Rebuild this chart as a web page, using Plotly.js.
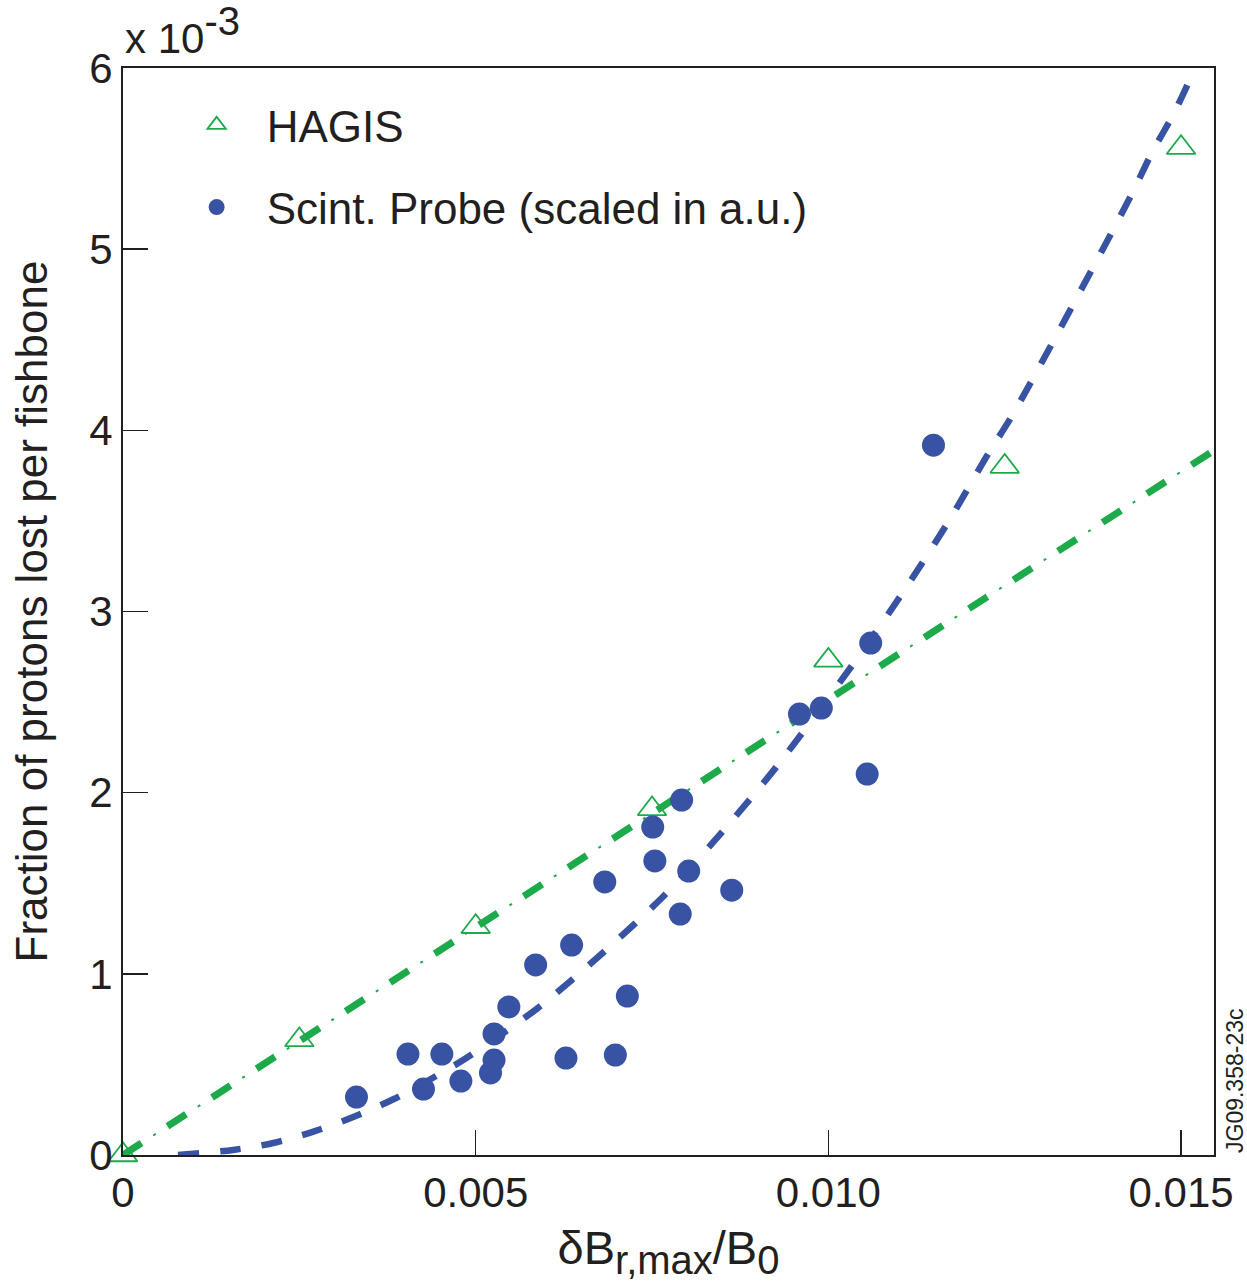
<!DOCTYPE html>
<html>
<head>
<meta charset="utf-8">
<script src="https://cdn.plot.ly/plotly-3.0.1.min.js"></script>
<style>html,body{margin:0;padding:0;background:#fff;}</style>
</head>
<body>
<div id="chart" style="width:1247px;height:1285px;"></div>
<script>
// HAGIS simulation points (y in units of 1e-3)
const hagisX = [0, 0.0025, 0.005, 0.0075, 0.010, 0.0125, 0.015];
const hagisY = [0.0, 0.635, 1.26, 1.91, 2.73, 3.80, 5.56];

// Scintillator probe measurements (scaled, a.u., units of 1e-3)
const probeX = [0.00331, 0.00404, 0.00426, 0.00452, 0.00479, 0.00521, 0.00526, 0.00526, 0.00547,
                0.00585, 0.00628, 0.00636, 0.00683, 0.00698, 0.00715, 0.00751, 0.00754, 0.00792,
                0.00790, 0.00802, 0.00863, 0.00959, 0.00990, 0.01055, 0.01060, 0.01149];
const probeY = [0.32, 0.557, 0.364, 0.557, 0.408, 0.453, 0.524, 0.668, 0.817,
                1.049, 0.535, 1.159, 1.507, 0.552, 0.877, 1.810, 1.623, 1.959,
                1.330, 1.567, 1.462, 2.434, 2.467, 2.103, 2.826, 3.918];

// Dashed blue curve
const curveX = [0.00078, 0.00156, 0.00213, 0.00272, 0.00330, 0.00384, 0.00439, 0.00489, 0.00588,
                0.00680, 0.00768, 0.00848, 0.00926, 0.01034, 0.01103, 0.01169, 0.01228, 0.01261,
                0.01405, 0.01433, 0.01459, 0.01490, 0.01520];
const curveY = [0.0, 0.028, 0.066, 0.132, 0.215, 0.309, 0.425, 0.541, 0.811,
                1.115, 1.435, 1.777, 2.141, 2.704, 3.090, 3.488, 3.880, 4.084,
                5.116, 5.326, 5.535, 5.751, 6.0];

// Green dash-dot linear line
const lineX = [0, 0.01551];
const lineY = [0, 3.90];

// Axis ticks
const xTickVals = [0, 0.005, 0.010, 0.015];
const xTickText = ['0', '0.005', '0.010', '0.015'];
const yTickVals = [0, 1, 2, 3, 4, 5, 6];
const yTickText = ['0', '1', '2', '3', '4', '5', '6'];

const BLUE = '#3853a4';
const GREEN = '#1daa4a';
const INK = '#231f20';
const FONT = 'Liberation Sans, Arial, Helvetica, sans-serif';

const traces = [
  {x: lineX, y: lineY, mode: 'lines', showlegend: false, hoverinfo: 'skip',
   line: {color: GREEN, width: 7, dash: '22px,31px'}},
  {x: lineX, y: lineY, mode: 'lines', showlegend: false, hoverinfo: 'skip',
   line: {color: GREEN, width: 2, dash: '0px,36px,3px,14px'}},
  {x: curveX, y: curveY, mode: 'lines', showlegend: false, hoverinfo: 'skip',
   line: {color: BLUE, width: 6.5, dash: '21px,21px', shape: 'spline', smoothing: 0.8}},
  {x: hagisX, y: hagisY, mode: 'markers', name: 'HAGIS', legendgroup: 'a', cliponaxis: false,
   marker: {symbol: 'triangle-up-open', size: 25, color: GREEN, line: {color: GREEN, width: 1.8}}},
  {x: probeX, y: probeY, mode: 'markers', name: 'Scint. Probe (scaled in a.u.)', legendgroup: 'b', cliponaxis: false,
   marker: {symbol: 'circle', size: 23, color: BLUE}}
];

const axisCommon = {
  showgrid: false, zeroline: false, showline: true, linecolor: INK, linewidth: 2,
  mirror: true, ticks: 'inside', ticklen: 25, tickwidth: 1.5, tickcolor: INK,
  tickfont: {family: FONT, size: 42, color: INK}
};

const layout = {
  width: 1247, height: 1285,
  margin: {l: 123, r: 33, t: 68, b: 130},
  paper_bgcolor: '#ffffff', plot_bgcolor: '#ffffff',
  font: {family: FONT, color: INK},
  xaxis: Object.assign({}, axisCommon, {
    range: [0, 0.015467], tickmode: 'array', tickvals: xTickVals, ticktext: xTickText,
    title: {text: 'δB<sub><span style="font-size:40px">r,max</span></sub>/B<sub><span style="font-size:40px">0</span></sub>',
            font: {family: FONT, size: 47, color: INK}, standoff: 16}
  }),
  yaxis: Object.assign({}, axisCommon, {
    range: [0, 6], tickmode: 'array', tickvals: yTickVals, ticktext: yTickText,
    title: {text: 'Fraction of protons lost per fishbone', font: {family: FONT, size: 44, color: INK}, standoff: 28}
  }),
  showlegend: true,
  legend: {
    x: 0.04, y: 0.98, xanchor: 'left', yanchor: 'top',
    bgcolor: 'rgba(0,0,0,0)', borderwidth: 0,
    font: {family: FONT, size: 44, color: INK},
    traceorder: 'grouped', tracegroupgap: 22, itemwidth: 90
  },
  annotations: [
    {xref: 'paper', yref: 'paper', x: 0, y: 1, xanchor: 'left', yanchor: 'bottom', yshift: 4,
     text: 'x 10<sup><span style="font-size:40px">-3</span></sup>', showarrow: false,
     font: {family: FONT, size: 42, color: INK}},
    {xref: 'paper', yref: 'paper', x: 1, y: 0, xanchor: 'left', yanchor: 'bottom', xshift: 6, yshift: 0,
     text: 'JG09.358-23c', textangle: -90, showarrow: false, font: {family: FONT, size: 23, color: INK}}
  ]
};

Plotly.newPlot('chart', traces, layout, {displayModeBar: false, staticPlot: true});
</script>
</body>
</html>
